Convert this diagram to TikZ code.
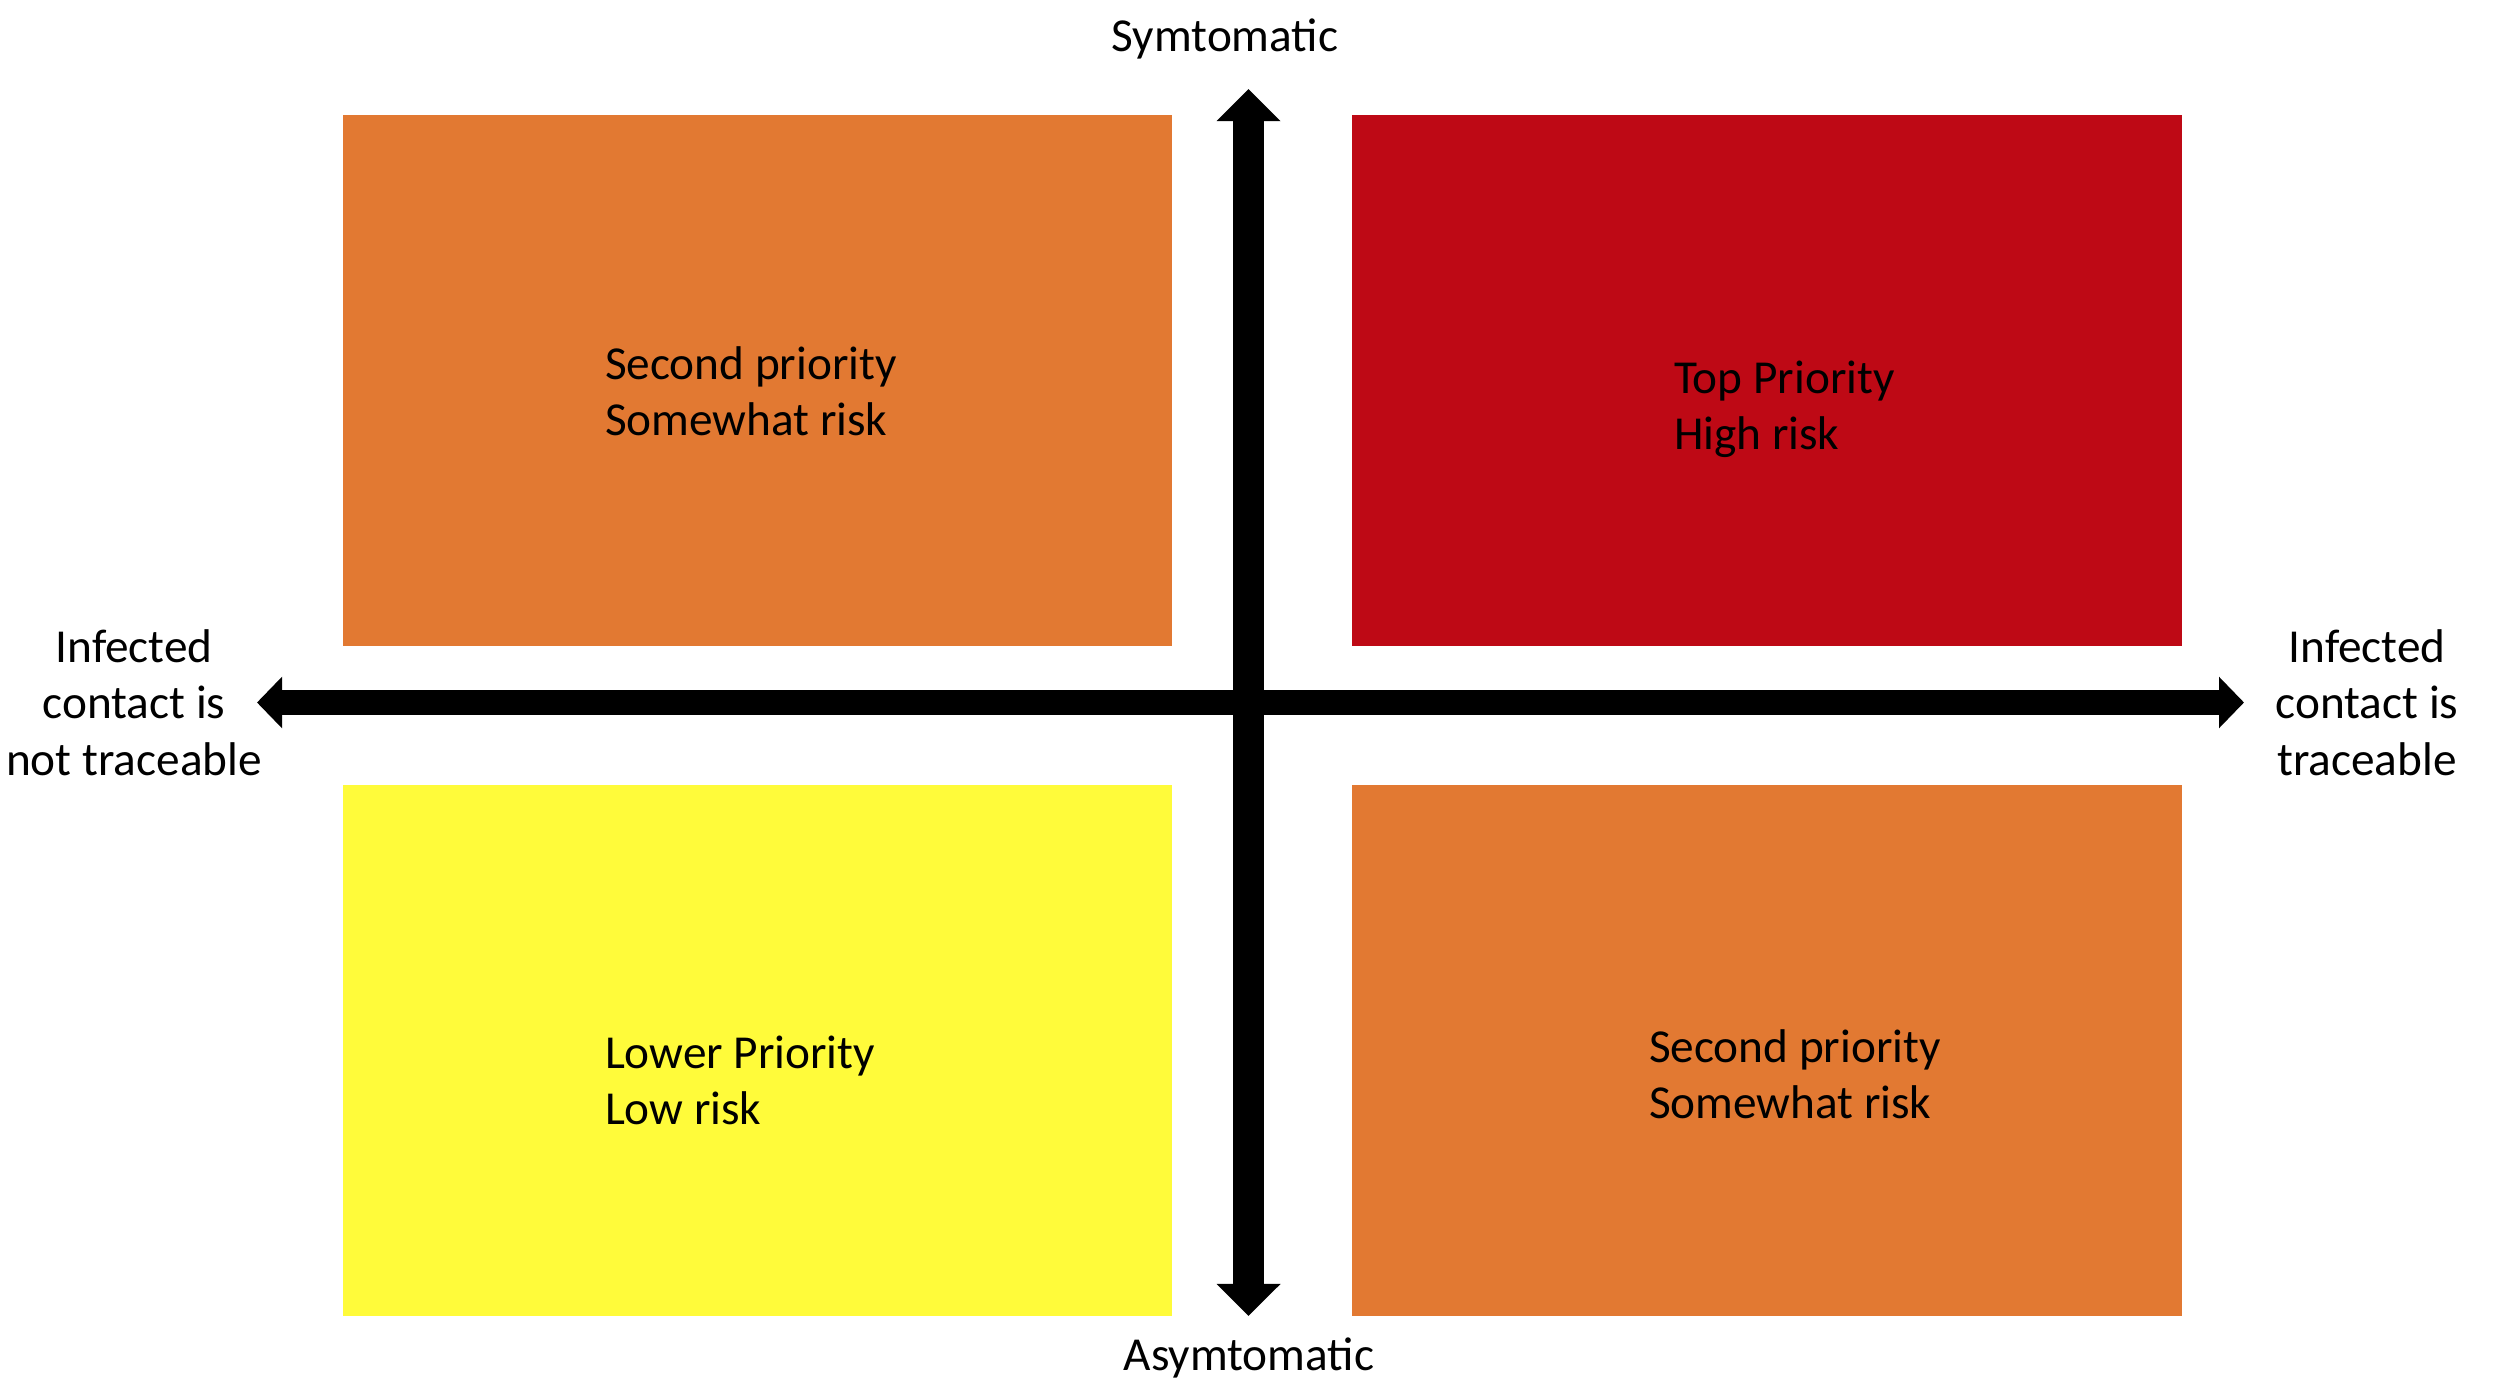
\documentclass[tikz,border=0pt]{standalone}
\usepackage{fontspec}
\setmainfont{Carlito}
\usetikzlibrary{arrows.meta}
\definecolor{orangeC}{RGB}{226,121,50}
\definecolor{redC}{RGB}{190,9,21}
\definecolor{yellowC}{RGB}{255,251,58}
\tikzset{
  quad/.style={draw=none, inner sep=0pt, outer sep=0pt, anchor=north west,
    minimum width=8.29cm, minimum height=5.31cm},
  lbl/.style={inner sep=0pt, outer sep=0pt, text=black,
    font=\fontsize{13.45}{16.2}\selectfont},
  vaxis/.style={line width=0.31cm, {Triangle[width=0.62cm,length=0.32cm]}-{Triangle[width=0.62cm,length=0.32cm]}},
  haxis/.style={line width=0.25cm, {Triangle[width=0.50cm,length=0.25cm]}-{Triangle[width=0.50cm,length=0.25cm]}}
}
\begin{document}
\begin{tikzpicture}[x=0.01cm,y=-0.01cm]
\useasboundingbox[fill=white] (0,0) rectangle (2500,1400);
% quadrants
\node[quad, fill=orangeC] (tl) at (343,115) {};
\node[quad, fill=redC] (tr) at (1352,115) {};
\node[quad, fill=yellowC] (bl) at (343,785) {};
\node[quad, fill=orangeC] (br) at (1352,785) {};
% quadrant texts
\node[lbl, anchor=base west] (tltext) at (605,379) {\begin{tabular}[t]{@{}l@{}}Second priority\\Somewhat risk\end{tabular}};
\node[lbl, anchor=base west] (trtext) at (1674,393) {\begin{tabular}[t]{@{}l@{}}Top Priority\\High risk\end{tabular}};
\node[lbl, anchor=base west] (bltext) at (605,1068) {\begin{tabular}[t]{@{}l@{}}Lower Priority\\Low risk\end{tabular}};
\node[lbl, anchor=base west] (brtext) at (1649,1062) {\begin{tabular}[t]{@{}l@{}}Second priority\\Somewhat risk\end{tabular}};
% axis endpoints
\coordinate (vtop) at (1248.5,89);
\coordinate (vbot) at (1248.5,1316);
\coordinate (hleft) at (257,702.5);
\coordinate (hright) at (2244,702.5);
\draw[vaxis] (vbot) -- (vtop);
\draw[haxis] (hleft) -- (hright);
% axis labels
\node[lbl, anchor=base] (sym) at (1225,52) {Symtomatic};
\node[lbl, anchor=base] (asym) at (1249,1370) {Asymtomatic};
\node[lbl, anchor=base] (notrace) at (134,662) {\begin{tabular}[t]{@{}c@{}}Infected\\contact is\\not traceable\end{tabular}};
\node[lbl, anchor=base] (trace) at (2367,662) {\begin{tabular}[t]{@{}c@{}}Infected\\contact is\\traceable\end{tabular}};
\end{tikzpicture}
\end{document}
